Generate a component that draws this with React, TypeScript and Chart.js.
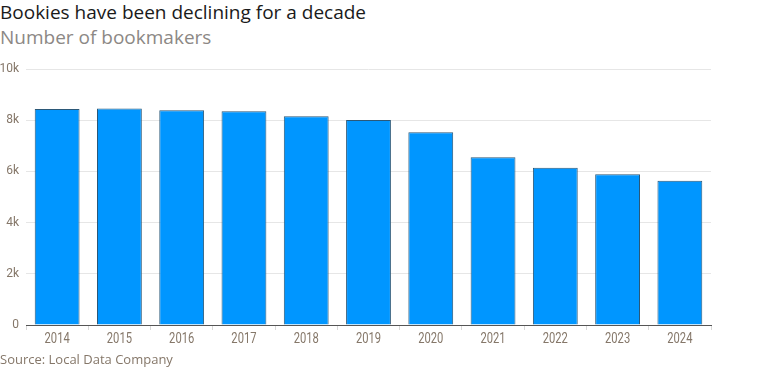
import React, { useEffect, useRef } from "react";
import { Chart, registerables } from "chart.js";

Chart.register(...registerables);

const years = ["2014", "2015", "2016", "2017", "2018", "2019", "2020", "2021", "2022", "2023", "2024"];
const bookmakers = [8440, 8460, 8390, 8350, 8150, 8010, 7530, 6550, 6140, 5890, 5630];
const yTicks = [0, 2000, 4000, 6000, 8000, 10000];

const tickColor = "#857769";

// Draws x tick labels horizontally condensed (reference uses a narrow face)
const narrowXLabels = {
  id: "narrowXLabels",
  afterDraw(chart: any) {
    const xs = chart.scales.x;
    const ctx = chart.ctx;
    ctx.save();
    ctx.fillStyle = tickColor;
    ctx.font = "14px Roboto, sans-serif";
    ctx.textAlign = "center";
    ctx.textBaseline = "alphabetic";
    xs.ticks.forEach((t: any, i: number) => {
      const x = xs.getPixelForTick(i);
      const label = String(xs.getLabelForValue(t.value));
      ctx.save();
      ctx.translate(x, xs.top + 18);
      ctx.scale(0.8, 1);
      ctx.fillText(label, 0, 0);
      ctx.restore();
    });
    ctx.restore();
  },
};

export default function App() {
  const ref = useRef<HTMLCanvasElement | null>(null);

  useEffect(() => {
    if (!ref.current) return;
    const chart = new Chart(ref.current, {
      type: "bar",
      data: {
        labels: years,
        datasets: [
          {
            data: bookmakers,
            backgroundColor: "#0096ff",
            borderColor: "#2b5878",
            borderWidth: 1,
          },
        ],
      },
      options: {
        animation: false,
        responsive: false,
        maintainAspectRatio: false,
        layout: { padding: { top: 69, right: 71, bottom: 0, left: 0 } },
        plugins: {
          legend: { display: false },
          tooltip: { enabled: false },
          title: { display: false },
        },
        scales: {
          x: {
            afterFit: (s: any) => {
              s.height = 53;
            },
            grid: {
              drawOnChartArea: false,
              drawTicks: true,
              tickLength: 5,
              color: "#d9d9d9",
            },
            border: { display: true, color: "#555555", width: 1 },
            ticks: {
              padding: 1,
              color: "rgba(0,0,0,0)",
              font: { family: "Roboto", size: 14 },
              maxRotation: 0,
            },
          },
          y: {
            min: 0,
            max: 10000,
            afterFit: (s: any) => {
              s.width = 26;
            },
            afterBuildTicks: (s: any) => {
              s.ticks = yTicks.map((v) => ({ value: v }));
            },
            grid: { drawTicks: false, color: "#e6e6e6", lineWidth: 1 },
            border: { display: false },
            ticks: {
              padding: 7,
              color: tickColor,
              font: { family: "Roboto", size: 12 },
              callback: (v: any) => (Number(v) === 0 ? "0" : Number(v) / 1000 + "k"),
            },
          },
        },
      },
      plugins: [narrowXLabels],
    });
    return () => chart.destroy();
  }, []);

  return (
    <div
      style={{
        position: "absolute",
        left: 0,
        top: 0,
        width: 782,
        height: 378,
        background: "#ffffff",
        overflow: "hidden",
        fontFamily: "'Open Sans', sans-serif",
      }}
    >
      <div
        style={{
          position: "absolute",
          left: 0,
          top: 3,
          fontSize: 19,
          lineHeight: "19px",
          color: "#1a1a1a",
          whiteSpace: "nowrap",
        }}
      >
        Bookies have been declining for a decade
      </div>
      <div
        style={{
          position: "absolute",
          left: 0,
          top: 28,
          fontSize: 19,
          lineHeight: "19px",
          color: "#8c8885",
          whiteSpace: "nowrap",
        }}
      >
        Number of bookmakers
      </div>
      <canvas ref={ref} width={782} height={378} style={{ position: "absolute", left: 0, top: 0 }} />
      <div
        style={{
          position: "absolute",
          left: 0,
          top: 353,
          fontSize: 13,
          lineHeight: "13px",
          color: tickColor,
          whiteSpace: "nowrap",
        }}
      >
        Source: Local Data Company
      </div>
    </div>
  );
}
